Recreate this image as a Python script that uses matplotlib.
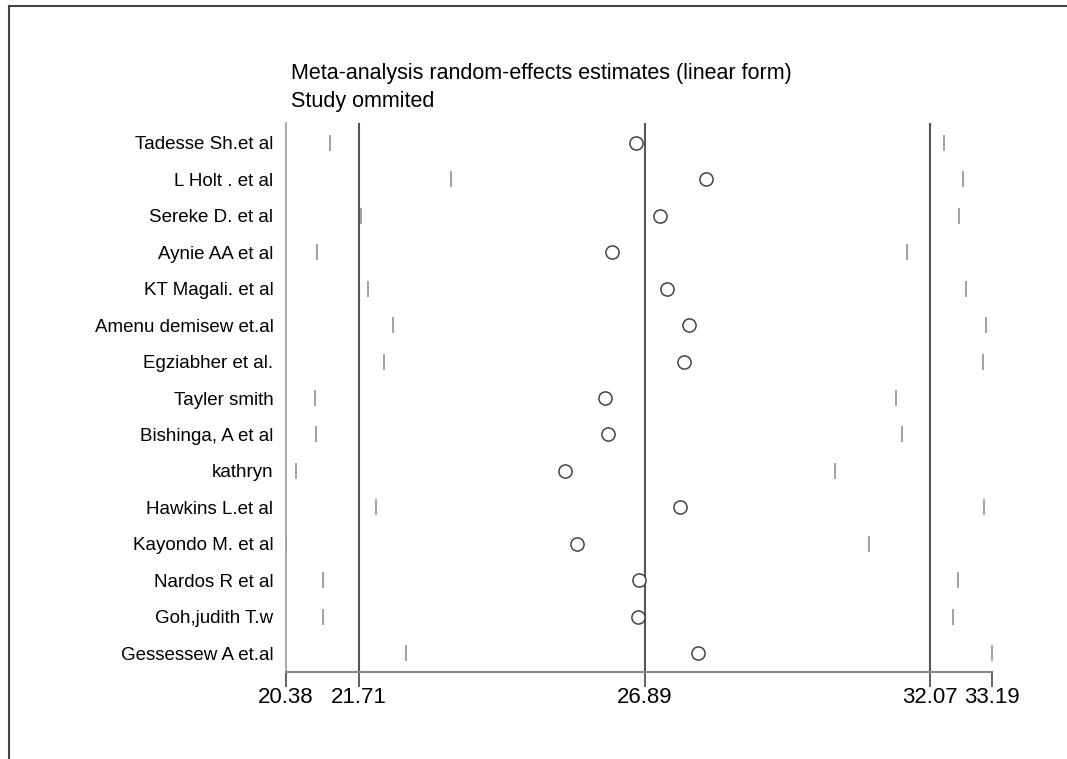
import matplotlib.pyplot as plt
from matplotlib.lines import Line2D

# Estudios omitidos y estimaciones (IC inferior, estimacion, IC superior)
estudios = ["Tadesse Sh.et al", "L Holt . et al", "Sereke D. et al", "Aynie AA et al",
            "KT Magali. et al", "Amenu demisew et.al", "Egziabher et al.", "Tayler smith",
            "Bishinga, A et al", "kathryn", "Hawkins L.et al", "Kayondo M. et al",
            "Nardos R et al", "Goh,judith T.w", "Gessessew A et.al"]
inferior = [21.18, 23.37, 21.74, 20.94, 21.87, 22.33, 22.16, 20.90, 20.93, 20.57,
            22.01, 20.38, 21.05, 21.05, 22.56]
estimacion = [26.74, 28.01, 27.16, 26.29, 27.29, 27.70, 27.60, 26.16, 26.22, 25.45,
              27.53, 25.66, 26.79, 26.76, 27.86]
superior = [32.32, 32.67, 32.59, 31.64, 32.71, 33.09, 33.03, 31.44, 31.55, 30.34,
            33.05, 30.95, 32.57, 32.48, 33.19]

# Lineas de referencia (IC global y estimacion combinada)
referencias = [21.71, 26.89, 32.07]
ticks_x = [20.38, 21.71, 26.89, 32.07, 33.19]

plt.rcParams['font.family'] = ['Liberation Sans', 'DejaVu Sans']

fig = plt.figure(figsize=(10.67, 7.59), dpi=100)
ax = fig.add_axes([0.268, 0.1146, 0.6617, 0.7234])

y = list(range(1, len(estudios) + 1))

# Lineas verticales de referencia
for r in referencias:
    ax.axvline(r, color='#555555', lw=1.5, zorder=1)

# Extremos del IC como pequenas marcas verticales
ax.scatter(inferior, y, marker='|', s=135, color='#888888', linewidths=1.1, zorder=2)
ax.scatter(superior, y, marker='|', s=135, color='#888888', linewidths=1.1, zorder=2)

# Estimaciones como circulos huecos
ax.scatter(estimacion, y, marker='o', s=90, facecolors='white',
           edgecolors='#444444', linewidths=1.1, zorder=3)

ax.set_xlim(20.38, 33.19)
ax.set_ylim(15.52, 0.45)

ax.set_yticks(y)
ax.set_yticklabels(estudios, fontsize=13.5)
ax.tick_params(axis='y', length=0, pad=9)

ax.set_xticks(ticks_x)
ax.set_xticklabels([f"{t:.2f}" for t in ticks_x], fontsize=16)
ax.tick_params(axis='x', length=11, width=1.3, color='#555555', pad=0)

for lado in ['top', 'right']:
    ax.spines[lado].set_visible(False)
ax.spines['left'].set_color('#999999')
ax.spines['left'].set_linewidth(1.2)
ax.spines['bottom'].set_color('#888888')
ax.spines['bottom'].set_linewidth(1.5)

# Titulo en dos lineas
fig.text(291 / 1067, 1 - 74 / 759, "Meta-analysis random-effects estimates (linear form)",
         fontsize=15.5, va='center', ha='left')
fig.text(291 / 1067, 1 - 102 / 759, "Study ommited",
         fontsize=15.5, va='center', ha='left')

# Marco del grafico
fig.add_artist(Line2D([9 / 1067, 9 / 1067], [0, 1 - 6 / 759], transform=fig.transFigure,
                      color='#444444', lw=1.5))
fig.add_artist(Line2D([9 / 1067, 1], [1 - 6 / 759, 1 - 6 / 759], transform=fig.transFigure,
                      color='#444444', lw=1.5))

fig.savefig("out.png", dpi=100)
